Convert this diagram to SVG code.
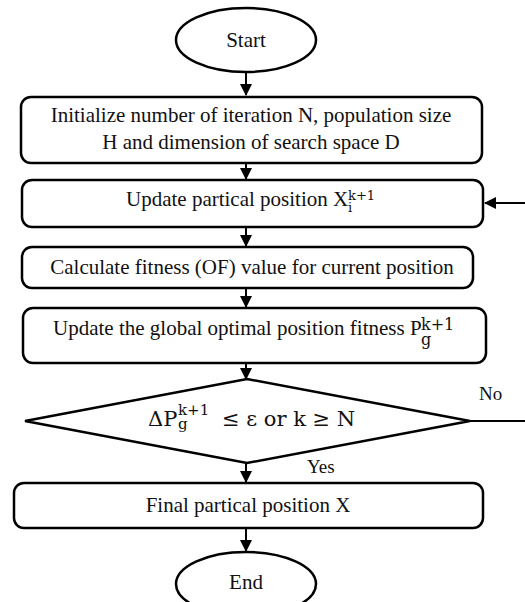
<svg xmlns="http://www.w3.org/2000/svg" width="525" height="602" viewBox="0 0 525 602" font-family="'Liberation Serif', 'Times New Roman', serif">
<style>
.shape{fill:#fff;stroke:#000;stroke-width:2.5}
.conn line{stroke:#000;stroke-width:2;fill:none}
text{font-family:'Liberation Serif','Times New Roman',serif;fill:#111;font-size:21px}
.c{text-anchor:middle}
.m{font-family:'DejaVu Serif','Liberation Serif',serif}
.lbl{font-size:19px}
</style>
<defs>
<marker id="ah" markerWidth="12" markerHeight="12" refX="11" refY="6" orient="auto" markerUnits="userSpaceOnUse">
<path d="M0,0 L12,6 L0,12 Z" fill="#000"/>
</marker>
</defs>
<rect width="525" height="602" fill="#fff"/>
<g class="conn">
<line x1="246" y1="72" x2="246" y2="95" marker-end="url(#ah)"/>
<line x1="246" y1="163" x2="246" y2="179" marker-end="url(#ah)"/>
<line x1="246" y1="227" x2="246" y2="246" marker-end="url(#ah)"/>
<line x1="246" y1="288" x2="246" y2="307" marker-end="url(#ah)"/>
<line x1="246" y1="363" x2="246" y2="379" marker-end="url(#ah)"/>
<line x1="246" y1="463" x2="246" y2="482" marker-end="url(#ah)"/>
<line x1="246" y1="528" x2="246" y2="551" marker-end="url(#ah)"/>
<line x1="470" y1="421" x2="525" y2="421"/>
<line x1="525" y1="203" x2="485" y2="203" marker-end="url(#ah)"/>
<text class="lbl" x="479" y="400">No</text>
<text class="lbl" x="307" y="473">Yes</text>
</g>
<g id="start">
<ellipse class="shape" cx="246" cy="40" rx="70" ry="32"/>
<text class="c" x="246" y="47">Start</text>
</g>
<g id="init">
<rect class="shape" x="21" y="97" width="461" height="66" rx="10"/>
<text class="c" x="251" y="122">Initialize number of iteration N, population size</text>
<text class="c" x="251" y="149">H and dimension of search space D</text>
</g>
<g id="update-pos">
<rect class="shape" x="22" y="180" width="461" height="47" rx="10"/>
<text x="126" y="206">Update partical position X<tspan class="m" font-size="13" x="348" y="212">i</tspan><tspan class="m" font-size="13" x="348" y="200">k+1</tspan></text>
</g>
<g id="fitness">
<rect class="shape" x="22" y="247" width="451" height="41" rx="10"/>
<text class="c" x="252" y="274">Calculate fitness (OF) value for current position</text>
</g>
<g id="global">
<rect class="shape" x="23" y="308" width="463" height="55" rx="10"/>
<text x="53" y="335">Update the global optimal position fitness P<tspan class="m" font-size="16" x="421" y="345">g</tspan><tspan class="m" font-size="16" x="421" y="330">k+1</tspan></text>
</g>
<g id="decision">
<polygon class="shape" points="247,379 470,421 247,463 25,421"/>
<text class="m" font-size="19" x="148" y="426">ΔP<tspan font-size="15" x="178" y="429">g</tspan><tspan font-size="15" x="178" y="415">k+1</tspan><tspan x="222" y="426">≤ ε or k ≥ N</tspan></text>
</g>
<g id="final">
<rect class="shape" x="14" y="483" width="469" height="45" rx="10"/>
<text class="c" x="248" y="512">Final partical position X</text>
</g>
<g id="end">
<ellipse class="shape" cx="246" cy="584" rx="70" ry="32"/>
<text class="c" x="246" y="589">End</text>
</g>
</svg>
